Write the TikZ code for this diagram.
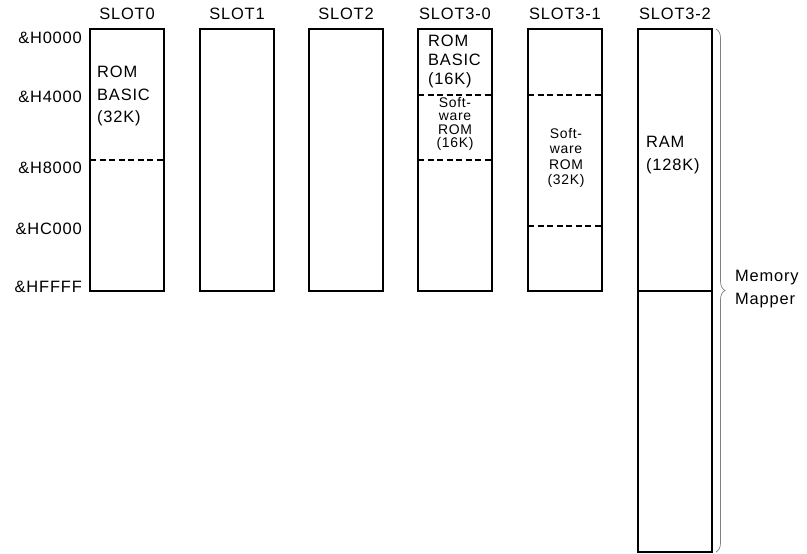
\documentclass[tikz,border=0pt]{standalone}
\usepackage{fontspec}
\setmainfont{Liberation Sans}[LetterSpace=5]
\usetikzlibrary{decorations.pathreplacing}

\tikzset{
    lbl/.style={inner sep=0pt,font=\fontsize{16.5}{23}\selectfont},
    sml/.style={inner sep=0pt,align=center,font=\fontsize{14}{13.3}\selectfont},
    wall/.style={line width=2.2bp},
    bound/.style={line width=2bp,dash pattern=on 6bp off 3.5bp}
}

\begin{document}
\begin{tikzpicture}[x=1bp,y=-1bp]
    \useasboundingbox (0,0) rectangle (807,554);
    % slots
    \foreach \x/\n/\t in {90/s0/SLOT0,200/s1/SLOT1,309/s2/SLOT2,418/s30/SLOT3-0,528/s31/SLOT3-1,638/s32/SLOT3-2}
    {
        \draw[wall] (\x,29) rectangle ++(74,262);
        \draw (\x+37,14) node[lbl] (\n) {\t};
    }
    \draw[wall] (638,291) rectangle (712,552);
    % addresses
    \foreach \y/\a in {38/0000,97/4000,168/8000,229/C000,287/FFFF}
        \draw (82,\y) node[lbl,anchor=east] (a\a) {\&H\a};
    % boundaries
    \draw[bound] (90,160.5) -- (164,160.5);
    \draw[bound] (418,95) -- (492,95);
    \draw[bound] (418,160.5) -- (492,160.5);
    \draw[bound] (528,95) -- (602,95);
    \draw[bound] (528,226) -- (602,226);
    % contents
    \draw (97,96) node[lbl,anchor=west,align=left] (rom0) {ROM\\BASIC\\(32K)};
    \draw (428,61.5) node[lbl,anchor=west,align=left,font=\fontsize{16.5}{19.5}\selectfont] (rom30) {ROM\\BASIC\\(16K)};
    \draw (455,124) node[sml] (sw30) {Soft-\\ware\\ROM\\(16K)};
    \draw (566,158) node[sml,font=\fontsize{14}{15.5}\selectfont] (sw31) {Soft-\\ware\\ROM\\(32K)};
    \draw (646,155.5) node[lbl,anchor=west,align=left] (ram) {RAM\\(128K)};
    % mapper
    \draw[decorate,decoration={brace,amplitude=9bp},gray,line width=0.7bp] (716,29) -- (716,552);
    \draw (735,289.5) node[lbl,anchor=west,align=left] (map) {Memory\\Mapper};
\end{tikzpicture}
\end{document}
